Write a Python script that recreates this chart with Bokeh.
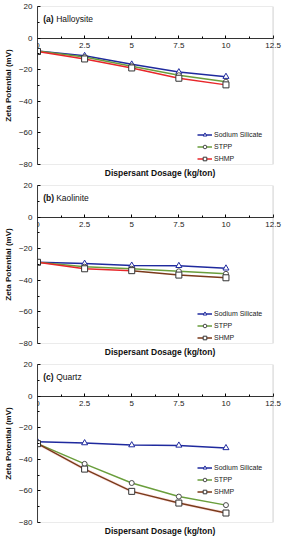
from bokeh.plotting import figure
from bokeh.layouts import column
from bokeh.models import (FixedTicker, Legend, LegendItem, Label, Title, BoxAnnotation)
from bokeh.embed import file_html
from bokeh.resources import INLINE

dosage = [0, 2.5, 5, 7.5, 10]
x_ticks = [0, 2.5, 5, 7.5, 10, 12.5]
x_tick_labels = ["0", "2.5", "5", "7.5", "10", "12.5"]
x_minor = [1.25, 3.75, 6.25, 8.75, 11.25]
y_ticks = [-80, -60, -40, -20, 0, 20]
y_minor = [-70, -50, -30, -10, 10]
x_min, x_max = 0, 12.5
y_min, y_max = -80, 20

panel_letters = ["(a)", "(b)", "(c)"]
panel_names = ["Halloysite", "Kaolinite", "Quartz"]
series_names = ["Sodium Silicate", "STPP", "SHMP"]

halloysite_ss = [-8.2, -11.2, -16.6, -21.5, -24.4]
halloysite_stpp = [-8.2, -12.0, -17.8, -23.5, -27.6]
halloysite_shmp = [-8.5, -13.2, -18.9, -25.4, -29.6]

kaolinite_ss = [-28.6, -29.4, -30.6, -30.8, -32.4]
kaolinite_stpp = [-28.6, -31.4, -32.7, -34.3, -35.9]
kaolinite_shmp = [-28.6, -32.7, -33.9, -36.7, -38.4]

quartz_ss = [-28.9, -29.7, -31.0, -31.2, -32.8]
quartz_stpp = [-30.1, -42.9, -55.0, -63.6, -69.0]
quartz_shmp = [-30.1, -46.2, -60.3, -67.7, -74.0]

FONT = "Liberation Sans"
BLUE = "#1f2a9e"
GREEN = "#6a9e3c"
RED = "#e8262a"
BROWN = "#7a3a1a"

panels = [
    [halloysite_ss, halloysite_stpp, halloysite_shmp],
    [kaolinite_ss, kaolinite_stpp, kaolinite_shmp],
    [quartz_ss, quartz_stpp, quartz_shmp],
]
shmp_colors = [RED, BROWN, BROWN]
legend_y = [1, 1, 26]

figs = []
for i, (vals, letter, name) in enumerate(zip(panels, panel_letters, panel_names)):
    # range runs a little past 12.5 so the last tick label has room; the box marks 0..12.5
    p = figure(frame_width=245, frame_height=158, x_range=(x_min, 13.0), y_range=(y_min, y_max),
               output_backend="svg", toolbar_location=None,
               min_border_left=31, min_border_right=1, min_border_top=6, min_border_bottom=13)
    p.grid.visible = False
    p.outline_line_color = None
    p.background_fill_color = "white"
    p.border_fill_color = "white"

    p.add_layout(BoxAnnotation(left=x_min, right=x_max, bottom=y_min, top=y_max,
                               fill_alpha=0, line_color="#7a7a7a", line_width=1.2))

    xa = p.xaxis[0]
    xa.fixed_location = 0
    xa.bounds = (x_min, x_max)
    xa.ticker = FixedTicker(ticks=x_ticks, minor_ticks=x_minor)
    xa.major_label_text_font_size = "0px"
    xa.major_label_text_alpha = 0
    xa.major_tick_in = 3
    xa.major_tick_out = 0
    xa.minor_tick_in = 2
    xa.minor_tick_out = 0
    xa.axis_line_color = "#333333"

    for tx, tl in zip(x_ticks, x_tick_labels):
        p.add_layout(Label(x=tx, y=0, text=tl, y_offset=-5, text_align="center",
                           text_baseline="top", text_font=FONT, text_font_size="8px",
                           text_color="#222222"))

    p.add_layout(Title(text="Dispersant Dosage (kg/ton)", align="center", offset=-7,
                       standoff=3, text_font=FONT, text_font_size="8.5px",
                       text_font_style="bold", text_color="#111111"), "below")

    ya = p.yaxis[0]
    ya.ticker = FixedTicker(ticks=y_ticks, minor_ticks=y_minor)
    ya.major_tick_in = 3
    ya.major_tick_out = 0
    ya.minor_tick_in = 2
    ya.minor_tick_out = 0
    ya.major_label_standoff = 5
    ya.major_label_text_font = FONT
    ya.major_label_text_font_size = "8px"
    ya.major_label_text_color = "#222222"
    ya.axis_label = "Zeta Potential (mV)"
    ya.axis_label_text_font = FONT
    ya.axis_label_text_font_size = "8px"
    ya.axis_label_text_font_style = "bold"
    ya.axis_label_text_color = "#111111"
    ya.axis_label_standoff = 3
    ya.axis_line_color = "#333333"

    ss, stpp, shmp = vals
    l1 = p.line(dosage, ss, line_color=BLUE, line_width=1.5)
    m1 = p.scatter(dosage, ss, marker="triangle", size=6, line_color=BLUE,
                   fill_color="white", line_width=1)
    l2 = p.line(dosage, stpp, line_color=GREEN, line_width=1.5)
    m2 = p.scatter(dosage, stpp, marker="circle", size=5, line_color="#4a4a4a",
                   fill_color="white", line_width=1)
    if i == 1:
        p.line(dosage[:3], shmp[:3], line_color=RED, line_width=1.5)
        l3 = p.line(dosage[2:], shmp[2:], line_color=BROWN, line_width=1.5)
    else:
        if i == 2:
            p.line(dosage, shmp, line_color=RED, line_width=3, line_alpha=0.12)
        l3 = p.line(dosage, shmp, line_color=shmp_colors[i], line_width=1.5)
    m3 = p.scatter(dosage, shmp, marker="square", size=6, line_color="#333333",
                   fill_color="white", line_width=1)

    items = [LegendItem(label=series_names[0], renderers=[l1, m1]),
             LegendItem(label=series_names[1], renderers=[l2, m2]),
             LegendItem(label=series_names[2], renderers=[l3, m3])]
    leg = Legend(items=items, location=(160, legend_y[i]))
    leg.border_line_color = None
    leg.background_fill_alpha = 0
    leg.label_text_font = FONT
    leg.label_text_font_size = "7px"
    leg.label_text_color = "#222222"
    leg.glyph_width = 15
    leg.glyph_height = 9
    leg.label_height = 9
    leg.label_standoff = 2
    leg.spacing = 3
    leg.padding = 0
    leg.margin = 0
    p.add_layout(leg)

    p.add_layout(Label(x=0.3, y=12, text=letter, text_font=FONT, text_font_size="8.5px",
                       text_font_style="bold", text_baseline="middle", text_color="#111111"))
    p.add_layout(Label(x=0.3, y=12, x_offset=13, text=name, text_font=FONT,
                       text_font_size="8.5px", text_baseline="middle", text_color="#111111"))
    figs.append(p)

layout = column(*figs, spacing=0)
open("out.html", "w").write(file_html(layout, INLINE))
